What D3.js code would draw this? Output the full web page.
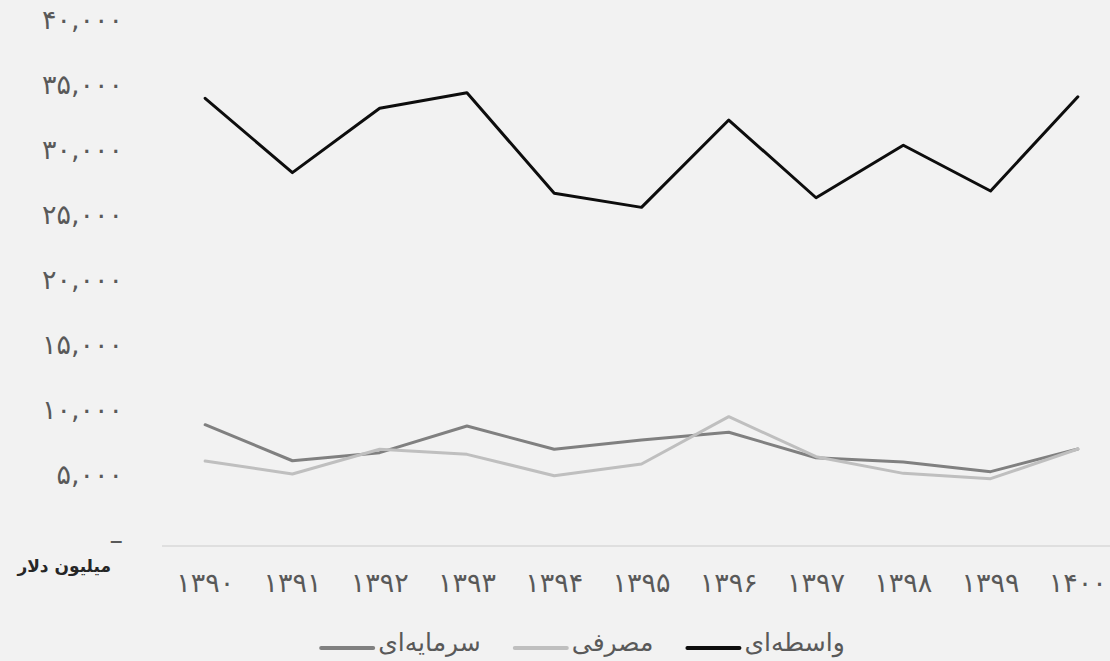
<!DOCTYPE html>
<html>
<head>
<meta charset="utf-8">
<script src="https://cdn.jsdelivr.net/npm/d3@7"></script>
<style>
  html, body { margin: 0; padding: 0; background: #f2f2f2; }
  svg { display: block; }
  text { font-family: "DejaVu Sans", "Noto Sans", sans-serif; }
</style>
</head>
<body>
<svg id="chart" width="1110" height="661"></svg>
<script>
// ---- Data ----
const years = ["1390","1391","1392","1393","1394","1395","1396","1397","1398","1399","1400"];
const intermediate = [34400, 28680, 33630, 34830, 27090, 26010, 32730, 26750, 30790, 27270, 34520]; // واسطه‌ای
const consumer     = [6500, 5500, 7400, 7010, 5370, 6270, 9910, 6830, 5550, 5140, 7420];              // مصرفی
const capital      = [9290, 6520, 7140, 9190, 7400, 8120, 8710, 6750, 6420, 5680, 7420];              // سرمایه‌ای
const seriesNames  = ["واسطه‌ای", "مصرفی", "سرمایه‌ای"];
const yTicks = [0, 5000, 10000, 15000, 20000, 25000, 30000, 35000, 40000];
const yAxisTitle = "میلیون دلار";

// ---- helpers ----
const faDigits = "۰۱۲۳۴۵۶۷۸۹";
const toFa = s => String(s).replace(/[0-9]/g, d => faDigits[+d]);
const fmtY = v => v === 0 ? "–" : toFa(d3.format(",")(v));

const svg = d3.select("#chart");

const x = d3.scaleBand().domain(years).range([161.5, 1121.5]).padding(0);
const y = d3.scaleLinear().domain([0, 40000]).range([545.5, 25.5]);
const cx = d => x(d) + x.bandwidth() / 2;

// y axis labels
const yAxis = d3.axisLeft(y).tickValues(yTicks).tickFormat(fmtY).tickSize(0).tickPadding(0);
const gy = svg.append("g").attr("transform", "translate(123,0)").call(yAxis);
gy.select(".domain").remove();
gy.selectAll("text")
  .attr("fill", "#595959")
  .style("font-size", "27px")
  .attr("dy", "0.12em");

// x axis
const xAxis = d3.axisBottom(x).tickSize(0).tickPadding(0).tickFormat(toFa);
const gx = svg.append("g").attr("transform", "translate(0,545.5)").call(xAxis);
gx.select(".domain").attr("stroke", "#d9d9d9").attr("stroke-width", 1.5);
gx.selectAll("text")
  .attr("fill", "#595959")
  .style("font-size", "27px")
  .attr("y", 46)
  .attr("dy", "0");

// axis title
svg.append("text")
  .attr("x", 111).attr("y", 572)
  .attr("text-anchor", "end")
  .attr("fill", "#262626")
  .style("font-size", "17px")
  .style("font-weight", "bold")
  .text(yAxisTitle);

// lines
const seriesData = [
  { name: seriesNames[2], values: capital, color: "#808080" },
  { name: seriesNames[1], values: consumer, color: "#bfbfbf" },
  { name: seriesNames[0], values: intermediate, color: "#0d0d0d" }
];
const line = d3.line().x((d, i) => cx(years[i])).y(d => y(d));
svg.append("g").selectAll("path")
  .data(seriesData)
  .join("path")
  .attr("d", d => line(d.values))
  .attr("fill", "none")
  .attr("stroke", d => d.color)
  .attr("stroke-width", 3)
  .attr("stroke-linejoin", "round")
  .attr("stroke-linecap", "round");

// legend (left to right: سرمایه‌ای, مصرفی, واسطه‌ای)
const legend = svg.append("g");
const lineLen = 52, gapLT = 5, gapItems = 34;
let curX = 0;
seriesData.forEach(s => {
  const g = legend.append("g");
  g.append("line")
    .attr("x1", curX).attr("x2", curX + lineLen)
    .attr("y1", 0).attr("y2", 0)
    .attr("stroke", s.color).attr("stroke-width", 4)
    .attr("stroke-linecap", "round");
  const t = g.append("text")
    .attr("x", curX + lineLen + gapLT).attr("y", 3)
    .attr("text-anchor", "start")
    .attr("fill", "#595959")
    .style("font-size", "25px")
    .text(s.name);
  const w = t.node().getComputedTextLength();
  curX += lineLen + gapLT + w + gapItems;
});
const totalW = curX - gapItems;
legend.attr("transform", `translate(${583 - totalW / 2},648)`);
</script>
</body>
</html>
